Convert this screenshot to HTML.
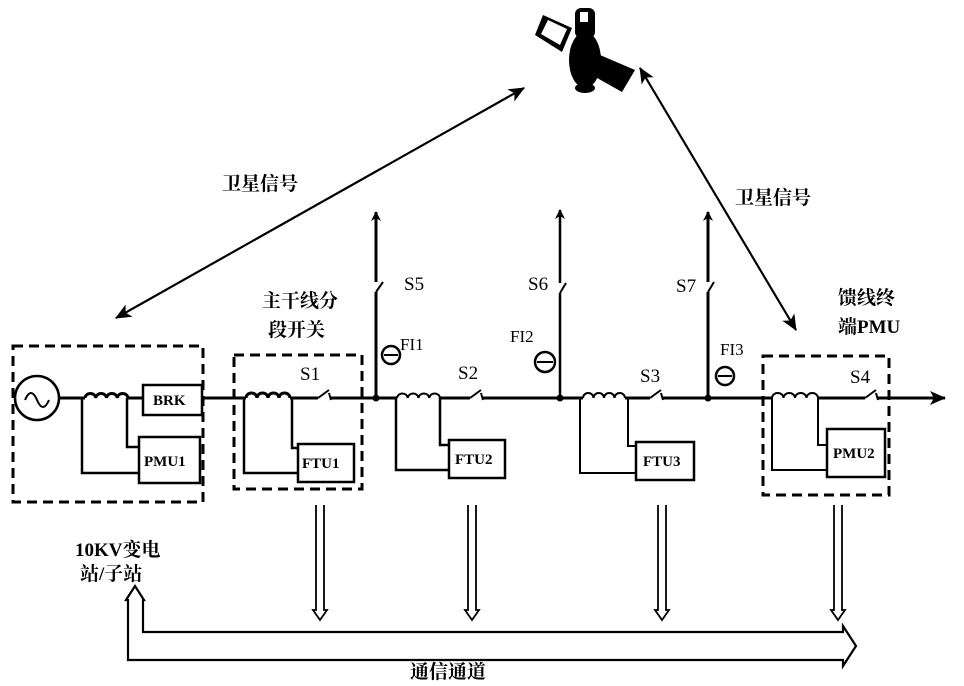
<!DOCTYPE html>
<html><head><meta charset="utf-8"><style>
html,body{margin:0;padding:0;background:#fff;}
svg{display:block;}
text{font-family:"Liberation Serif","Noto Serif CJK SC",serif;fill:#000;}
</style></head><body>
<svg width="964" height="686" viewBox="0 0 964 686" xmlns="http://www.w3.org/2000/svg">
<defs>
<marker id="ah" markerWidth="10" markerHeight="10" refX="9" refY="5" orient="auto" markerUnits="userSpaceOnUse"><path d="M0,0 L10,5 L0,10 L3,5 z" fill="#000"/></marker>
<marker id="ah2" markerWidth="16" markerHeight="14" refX="15" refY="7" orient="auto" markerUnits="userSpaceOnUse"><path d="M0,0 L16,7 L0,14 L4,7 z" fill="#000"/></marker>
</defs>
<g stroke="#000" fill="none">
<rect x="13" y="346" width="190" height="156" stroke-width="3" stroke-dasharray="10,6"/>
<rect x="234" y="355" width="128" height="134" stroke-width="3" stroke-dasharray="10,6"/>
<rect x="763" y="356" width="126" height="139" stroke-width="3" stroke-dasharray="10,6"/>
<circle cx="37" cy="398" r="22" stroke-width="2.5"/>
<path d="M25,400 q6,-14 12,0 q6,14 12,0" stroke-width="2"/>
<line x1="59" y1="398" x2="85" y2="398" stroke-width="3"/>
<line x1="128" y1="398" x2="143" y2="398" stroke-width="3"/>
<line x1="202" y1="398" x2="246" y2="398" stroke-width="3"/>
<line x1="290" y1="398" x2="318" y2="398" stroke-width="3"/>
<line x1="330" y1="398" x2="397" y2="398" stroke-width="3"/>
<line x1="440" y1="398" x2="470" y2="398" stroke-width="3"/>
<line x1="482" y1="398" x2="583" y2="398" stroke-width="3"/>
<line x1="625" y1="398" x2="650" y2="398" stroke-width="3"/>
<line x1="662" y1="398" x2="772" y2="398" stroke-width="3"/>
<line x1="818" y1="398" x2="865" y2="398" stroke-width="3"/>
<line x1="877" y1="398" x2="945" y2="398" stroke-width="3" marker-end="url(#ah2)"/>
<path d="M85,398 a5.4,5 0 0 1 10.75,0 a5.4,5 0 0 1 10.75,0 a5.4,5 0 0 1 10.75,0 a5.4,5 0 0 1 10.75,0" stroke-width="3"/>
<path d="M246,398 a5.5,5 0 0 1 11,0 a5.5,5 0 0 1 11,0 a5.5,5 0 0 1 11,0 a5.5,5 0 0 1 11,0" stroke-width="3"/>
<path d="M397,398 a5.4,5 0 0 1 10.75,0 a5.4,5 0 0 1 10.75,0 a5.4,5 0 0 1 10.75,0 a5.4,5 0 0 1 10.75,0" stroke-width="2"/>
<path d="M583,398 a5.25,5 0 0 1 10.5,0 a5.25,5 0 0 1 10.5,0 a5.25,5 0 0 1 10.5,0 a5.25,5 0 0 1 10.5,0" stroke-width="2"/>
<path d="M772,398 a5.75,5 0 0 1 11.5,0 a5.75,5 0 0 1 11.5,0 a5.75,5 0 0 1 11.5,0 a5.75,5 0 0 1 11.5,0" stroke-width="2"/>
<path d="M318,398 L329,390 M329,393 L331,400" stroke-width="2"/>
<path d="M470,398 L481,390 M481,393 L483,400" stroke-width="2"/>
<path d="M650,398 L661,390 M661,393 L663,400" stroke-width="2"/>
<path d="M865,398 L876,390 M876,393 L878,400" stroke-width="2"/>
<rect x="143" y="385" width="59" height="30" stroke-width="2.5"/>
<rect x="139" y="437" width="61" height="46" stroke-width="2.5"/>
<rect x="298" y="444" width="56" height="38" stroke-width="2.5"/>
<rect x="449" y="440" width="56" height="38" stroke-width="2.5"/>
<rect x="636" y="442" width="58" height="38" stroke-width="2.5"/>
<rect x="827" y="429" width="58" height="48" stroke-width="2.5"/>
<path d="M82,398 V473 H139 M127,398 V447 H139" stroke-width="2.5"/>
<path d="M244,398 V473 H298 M292,398 V448 H298" stroke-width="2.5"/>
<path d="M396,398 V470 H449 M440,398 V445 H449" stroke-width="2.5"/>
<path d="M580,398 V473 H636 M628,398 V446 H636" stroke-width="2"/>
<path d="M772,398 V470 H827 M818,398 V445 H827" stroke-width="2"/>
<path d="M376,398 V292 M376,282 V212" stroke-width="3" marker-end="url(#ah)"/>
<path d="M376,292 L383,282" stroke-width="2"/>
<path d="M560,398 V293 M560,283 V210" stroke-width="2.5" marker-end="url(#ah)"/>
<path d="M560,293 L566,283" stroke-width="2"/>
<path d="M708,398 V292 M708,282 V212" stroke-width="3" marker-end="url(#ah)"/>
<path d="M708,292 L714,282" stroke-width="2"/>
<circle cx="391" cy="355" r="9" stroke-width="2.5"/><line x1="384" y1="355" x2="398" y2="355" stroke-width="2"/>
<circle cx="545" cy="362" r="10" stroke-width="2.5"/><line x1="537" y1="362" x2="553" y2="362" stroke-width="2"/>
<circle cx="725" cy="376" r="9" stroke-width="2.5"/><line x1="718" y1="376" x2="732" y2="376" stroke-width="2"/>
</g>
<circle cx="376" cy="398" r="3.5"/><circle cx="560" cy="398" r="3.5"/><circle cx="708" cy="398" r="3.5"/>
<g stroke="#000" fill="none" stroke-width="2">
<line x1="116" y1="318" x2="524" y2="88" marker-end="url(#ah2)"/>
<line x1="524" y1="88" x2="116" y2="318" marker-end="url(#ah2)"/>
<line x1="640" y1="68" x2="796" y2="330" marker-end="url(#ah2)"/>
<line x1="796" y1="330" x2="640" y2="68" marker-end="url(#ah2)"/>
</g>
<g fill="#000">
<polygon points="543,15 572,28 562,52 535,35" />
<polygon points="548,20 567,29 560,45 541,34" fill="#fff"/>
<polygon points="600,55 635,70 622,92 590,74"/>
<rect x="575" y="8" width="20" height="30" rx="6"/>
<ellipse cx="585" cy="60" rx="16" ry="28"/>
<ellipse cx="585" cy="88" rx="10" ry="5"/>
<rect x="580" y="12" width="8" height="10" fill="#fff"/>
</g>
<g stroke="#000" fill="#fff" stroke-width="1.8">
<path d="M316,505 V610 L313,610 L320,620 L327,610 L324,610 V505"/>
<path d="M468,505 V610 L465,610 L472,620 L479,610 L476,610 V505"/>
<path d="M658,505 V610 L655,610 L662,620 L669,610 L666,610 V505"/>
<path d="M834,505 V610 L831,610 L838,620 L845,610 L842,610 V505"/>
<path d="M128,660 V600 L126,600 L135,586 L144,600 L143,600 V632 H843 L843,626 L856,646 L843,666 L843,660 Z" stroke-width="2.2"/>
</g>
<g font-size="15" font-weight="bold">
<text x="153" y="405">BRK</text>
<text x="144" y="466">PMU1</text>
<text x="302" y="468">FTU1</text>
<text x="455" y="464">FTU2</text>
<text x="643" y="466">FTU3</text>
<text x="833" y="458">PMU2</text>
</g>
<g font-size="19">
<text x="300" y="380">S1</text>
<text x="458" y="379">S2</text>
<text x="640" y="382">S3</text>
<text x="850" y="383">S4</text>
<text x="404" y="290">S5</text>
<text x="528" y="290">S6</text>
<text x="676" y="292">S7</text>
<text x="400" y="350" font-size="17">FI1</text>
<text x="510" y="342" font-size="17">FI2</text>
<text x="720" y="355" font-size="17">FI3</text>
</g>
<g font-size="19" font-weight="bold">
<text x="222" y="190">卫星信号</text>
<text x="735" y="204">卫星信号</text>
<text x="262" y="307">主干线分</text>
<text x="268" y="336">段开关</text>
<text x="838" y="304">馈线终</text>
<text x="838" y="333">端PMU</text>
<text x="75" y="556">10KV变电</text>
<text x="80" y="580">站/子站</text>
<text x="410" y="678">通信通道</text>
</g>
</svg>
</body></html>
